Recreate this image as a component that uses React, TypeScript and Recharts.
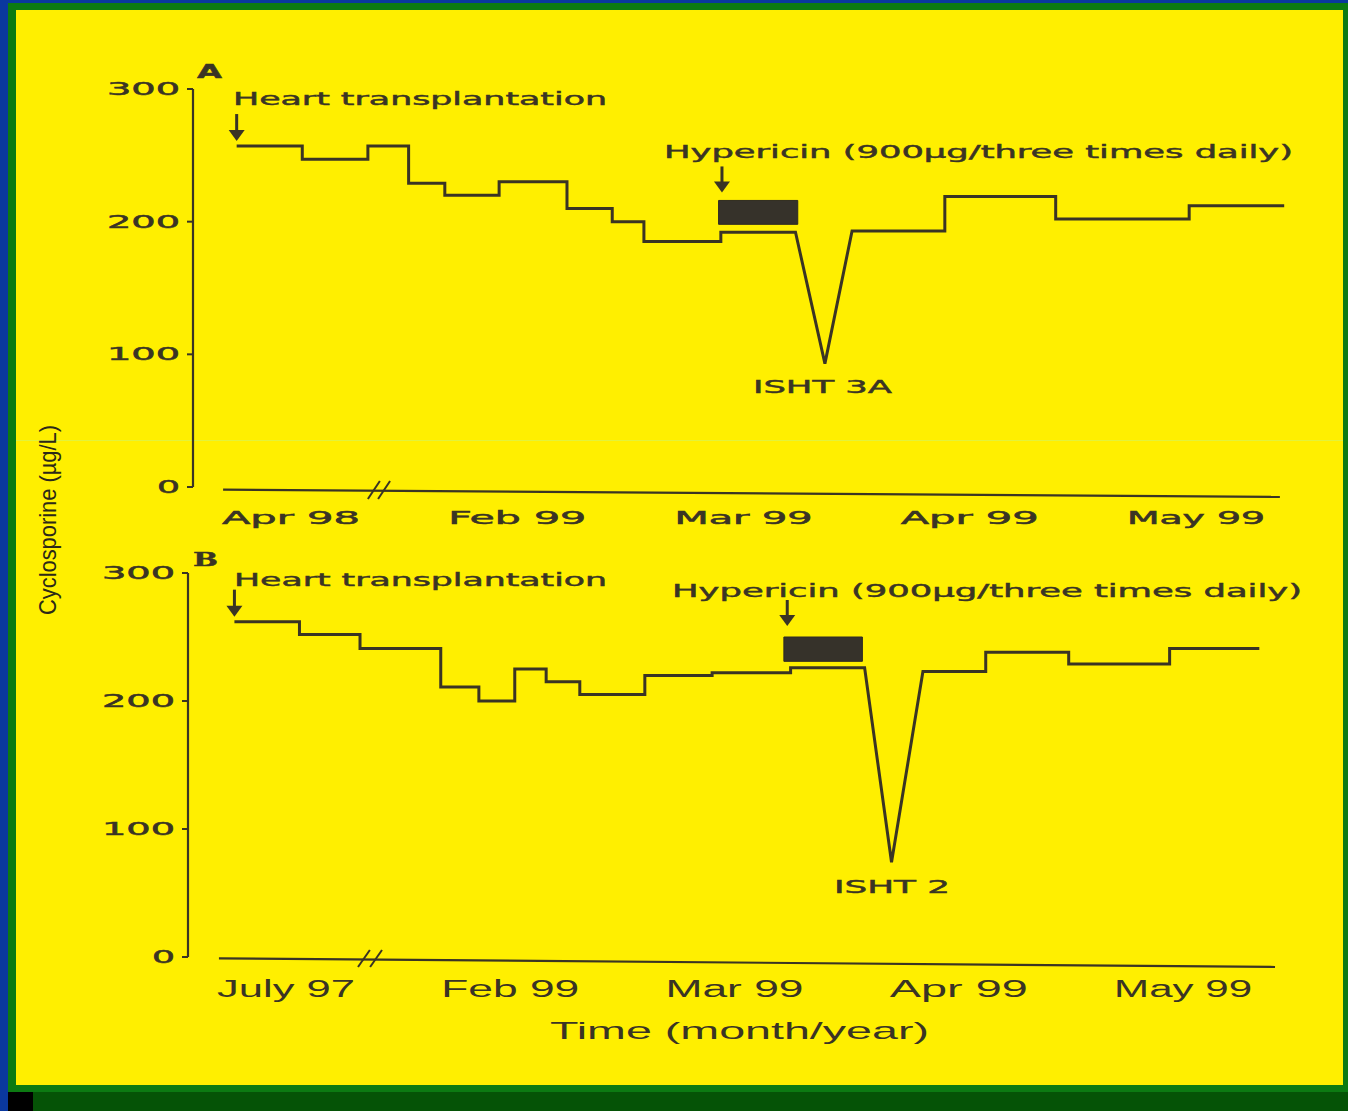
import { LineChart, Line, XAxis, YAxis, ReferenceArea, ReferenceLine, ReferenceDot } from 'recharts'

// Trace vertices. Time is measured in label intervals from the first axis label
// (the axis is broken, so the spacing is by label, not by calendar); steps repeat x.
const timeA = [-0.24, 0.05, 0.05, 0.34, 0.34, 0.52, 0.52, 0.68, 0.68, 0.92, 0.92, 1.22, 1.22, 1.42, 1.42, 1.56, 1.56, 1.9, 1.9, 2.23, 2.36, 2.48, 2.89, 2.89, 3.38, 3.38, 3.97, 3.97, 4.39]
const levelA = [257, 257, 247, 247, 257, 257, 229, 229, 220, 220, 230, 230, 210, 210, 200, 200, 185, 185, 192, 192, 93, 193, 193, 219, 219, 202, 202, 212, 212]
const monthsA = ['Apr 98', 'Feb 99', 'Mar 99', 'Apr 99', 'May 99']

const timeB = [-0.23, 0.06, 0.06, 0.33, 0.33, 0.69, 0.69, 0.86, 0.86, 1.02, 1.02, 1.16, 1.16, 1.31, 1.31, 1.6, 1.6, 1.9, 1.9, 2.25, 2.25, 2.58, 2.7, 2.84, 3.12, 3.12, 3.49, 3.49, 3.94, 3.94, 4.34]
const levelB = [262, 262, 252, 252, 241, 241, 211, 211, 200, 200, 225, 225, 215, 215, 205, 205, 220, 220, 222, 222, 226, 226, 74, 223, 223, 238, 238, 229, 229, 241, 241]
const monthsB = ['July 97', 'Feb 99', 'Mar 99', 'Apr 99', 'May 99']

const yTicks = [0, 100, 200, 300]

// hypericin course: [start, end] on the time axis, bar drawn over [low, high] µg/L
const hypericinA = [1.89, 2.24]
const hypericinBandA = [198, 216]
const hypericinB = [2.22, 2.57]
const hypericinBandB = [231, 250]

const INK = '#3a3424'
const WIDE = 'DejaVu Sans'

function toRows(t: number[], v: number[]) {
  return t.map((x, i) => ({ t: x, v: v[i] }))
}

function YTick({ x, y, payload }: any) {
  const s = String(payload.value)
  return (
    <text x={x} y={y + 6} textAnchor="end" fill={INK} stroke={INK} strokeWidth={0.5} fontSize={17}
      fontFamily={WIDE} textLength={s.length * 25 - 2} lengthAdjust="spacingAndGlyphs">{s}</text>
  )
}

function makeXTick(labels: string[], font: string, size: number, len: number, dy: number, weight: number) {
  return ({ x, y, payload }: any) => (
    <text x={x} y={y + dy} textAnchor="middle" fill={INK} stroke={INK} strokeWidth={weight}
      fontSize={size} fontFamily={font} textLength={len} lengthAdjust="spacingAndGlyphs">
      {labels[payload.value]}
    </text>
  )
}

// downward arrow whose tip sits `gap` px above (cx, cy)
function arrow(gap: number, len: number) {
  return ({ cx, cy }: any) => {
    const tip = cy - gap
    return (
      <g>
        <line x1={cx} y1={tip - len} x2={cx} y2={tip - 8} stroke={INK} strokeWidth={3} />
        <polygon points={`${cx - 8},${tip - 11} ${cx + 8},${tip - 11} ${cx},${tip}`} fill={INK} />
      </g>
    )
  }
}

interface PanelProps {
  top: number
  height: number
  time: number[]
  level: number[]
  xDomain: [number, number]
  yAxisWidth: number
  marginTop: number
  marginBottom: number
  marginRight: number
  axisSpan: [number, number]
  axisTilt: [number, number]
  breakAt: number[]
  breakY: [number, number]
  hyp: number[]
  band: number[]
  xTick: any
  arrowGap: number
}

function Panel(p: PanelProps) {
  const data = toRows(p.time, p.level)
  return (
    <div style={{ position: 'absolute', left: 0, top: p.top }}>
      <LineChart width={1348} height={p.height} data={data}
        margin={{ top: p.marginTop, right: p.marginRight, bottom: p.marginBottom, left: 0 }}>
        <XAxis dataKey="t" type="number" domain={p.xDomain} ticks={[0, 1, 2, 3, 4]}
          allowDataOverflow axisLine={false} tickLine={false} tickSize={0} tickMargin={0}
          height={40} tick={p.xTick} interval={0} />
        <YAxis type="number" domain={[0, 300]} ticks={yTicks} width={p.yAxisWidth}
          axisLine={{ stroke: INK, strokeWidth: 2.2 }} tickLine={{ stroke: INK, strokeWidth: 2 }}
          tickSize={6} tickMargin={7} tick={<YTick />} interval={0} />
        <ReferenceLine segment={[{ x: p.axisSpan[0], y: p.axisTilt[0] }, { x: p.axisSpan[1], y: p.axisTilt[1] }]}
          stroke={INK} strokeWidth={2.2} ifOverflow="visible" />
        {p.breakAt.map((b) => (
          <ReferenceLine key={b} segment={[{ x: b, y: p.breakY[0] }, { x: b + 0.053, y: p.breakY[1] }]}
            stroke={INK} strokeWidth={2} ifOverflow="visible" />
        ))}
        <ReferenceArea x1={p.hyp[0]} x2={p.hyp[1]} y1={p.band[0]} y2={p.band[1]}
          fill="#36322a" fillOpacity={1} stroke="#2e2a22" strokeWidth={1} ifOverflow="visible" />
        <ReferenceDot x={p.time[0]} y={p.level[0]} ifOverflow="visible" shape={arrow(5, 27)} />
        <ReferenceDot x={p.hyp[0] + 0.015} y={p.band[1]} ifOverflow="visible" shape={arrow(p.arrowGap, 26)} />
        <Line dataKey="v" type="linear" stroke={INK} strokeWidth={3} dot={false}
          isAnimationActive={false} strokeLinejoin="miter" />
      </LineChart>
    </div>
  )
}

export default function App() {
  const wideText = {
    fill: INK, stroke: INK, strokeWidth: 0.45, fontFamily: WIDE, fontSize: 17,
    lengthAdjust: 'spacingAndGlyphs' as const,
  }
  const plainText = {
    fill: INK, fontFamily: 'Liberation Sans', fontSize: 24, lengthAdjust: 'spacingAndGlyphs' as const,
  }
  return (
    <div style={{ position: 'absolute', left: 0, top: 0, width: 1348, height: 1111, background: '#0a389e', overflow: 'hidden' }}>
      <div style={{ position: 'absolute', left: 8, top: 3, width: 1340, height: 1089, background: '#0c7a12' }} />
      <div style={{ position: 'absolute', left: 8, top: 1092, width: 1340, height: 19, background: '#055306' }} />
      <div style={{ position: 'absolute', left: 8, top: 1092, width: 25, height: 19, background: '#000' }} />
      <div style={{ position: 'absolute', left: 16, top: 10, width: 1327, height: 1075, background: '#ffef00' }} />
      <div style={{ position: 'absolute', left: 16, top: 440, width: 1327, height: 1, background: '#e2f23c' }} />

      <Panel top={0} height={540} time={timeA} level={levelA}
        xDomain={[-0.433, 4.451]} yAxisWidth={193} marginTop={89} marginBottom={13} marginRight={50}
        axisSpan={[-0.3, 4.371]} axisTilt={[-2, -7.5]} breakAt={[0.34, 0.385]} breakY={[-9, 4.5]}
        hyp={hypericinA} band={hypericinBandA} arrowGap={8}
        xTick={makeXTick(monthsA, WIDE, 17, 138, 37, 0.5)} />
      <Panel top={540} height={520} time={timeB} level={levelB}
        xDomain={[-0.437, 4.45]} yAxisWidth={188} marginTop={33} marginBottom={63} marginRight={64}
        axisSpan={[-0.299, 4.41]} axisTilt={[-1, -7.8]} breakAt={[0.321, 0.375]} breakY={[-7.8, 5.5]}
        hyp={hypericinB} band={hypericinBandB} arrowGap={11}
        xTick={makeXTick(monthsB, 'Liberation Sans', 23, 138, 40, 0)} />

      <svg width={1348} height={1111} style={{ position: 'absolute', left: 0, top: 0, pointerEvents: 'none' }}>
        <text x={197} y={78} {...wideText} fontSize={19} fontWeight="bold" textLength={25}>A</text>
        <text x={233} y={105} {...wideText} textLength={374}>Heart transplantation</text>
        <text x={664} y={158} {...wideText} textLength={629}>Hypericin (900µg/three times daily)</text>
        <text x={753} y={393} {...wideText} textLength={139}>ISHT 3A</text>

        <text x={193} y={566} {...wideText} fontSize={19} fontFamily="DejaVu Serif" fontWeight="bold" textLength={25}>B</text>
        <text x={234} y={586} {...wideText} textLength={373}>Heart transplantation</text>
        <text x={672} y={597} {...wideText} textLength={630}>Hypericin (900µg/three times daily)</text>
        <text x={834} y={893} {...wideText} textLength={116}>ISHT 2</text>

        <text x={550} y={1039} {...plainText} textLength={379}>Time (month/year)</text>
        <text transform="translate(56,520) rotate(-90)" textAnchor="middle" fill="#2c2818"
          fontFamily="Liberation Sans Narrow, Liberation Sans" fontSize={24}
          textLength={190} lengthAdjust="spacingAndGlyphs">Cyclosporine (µg/L)</text>
      </svg>
    </div>
  )
}
